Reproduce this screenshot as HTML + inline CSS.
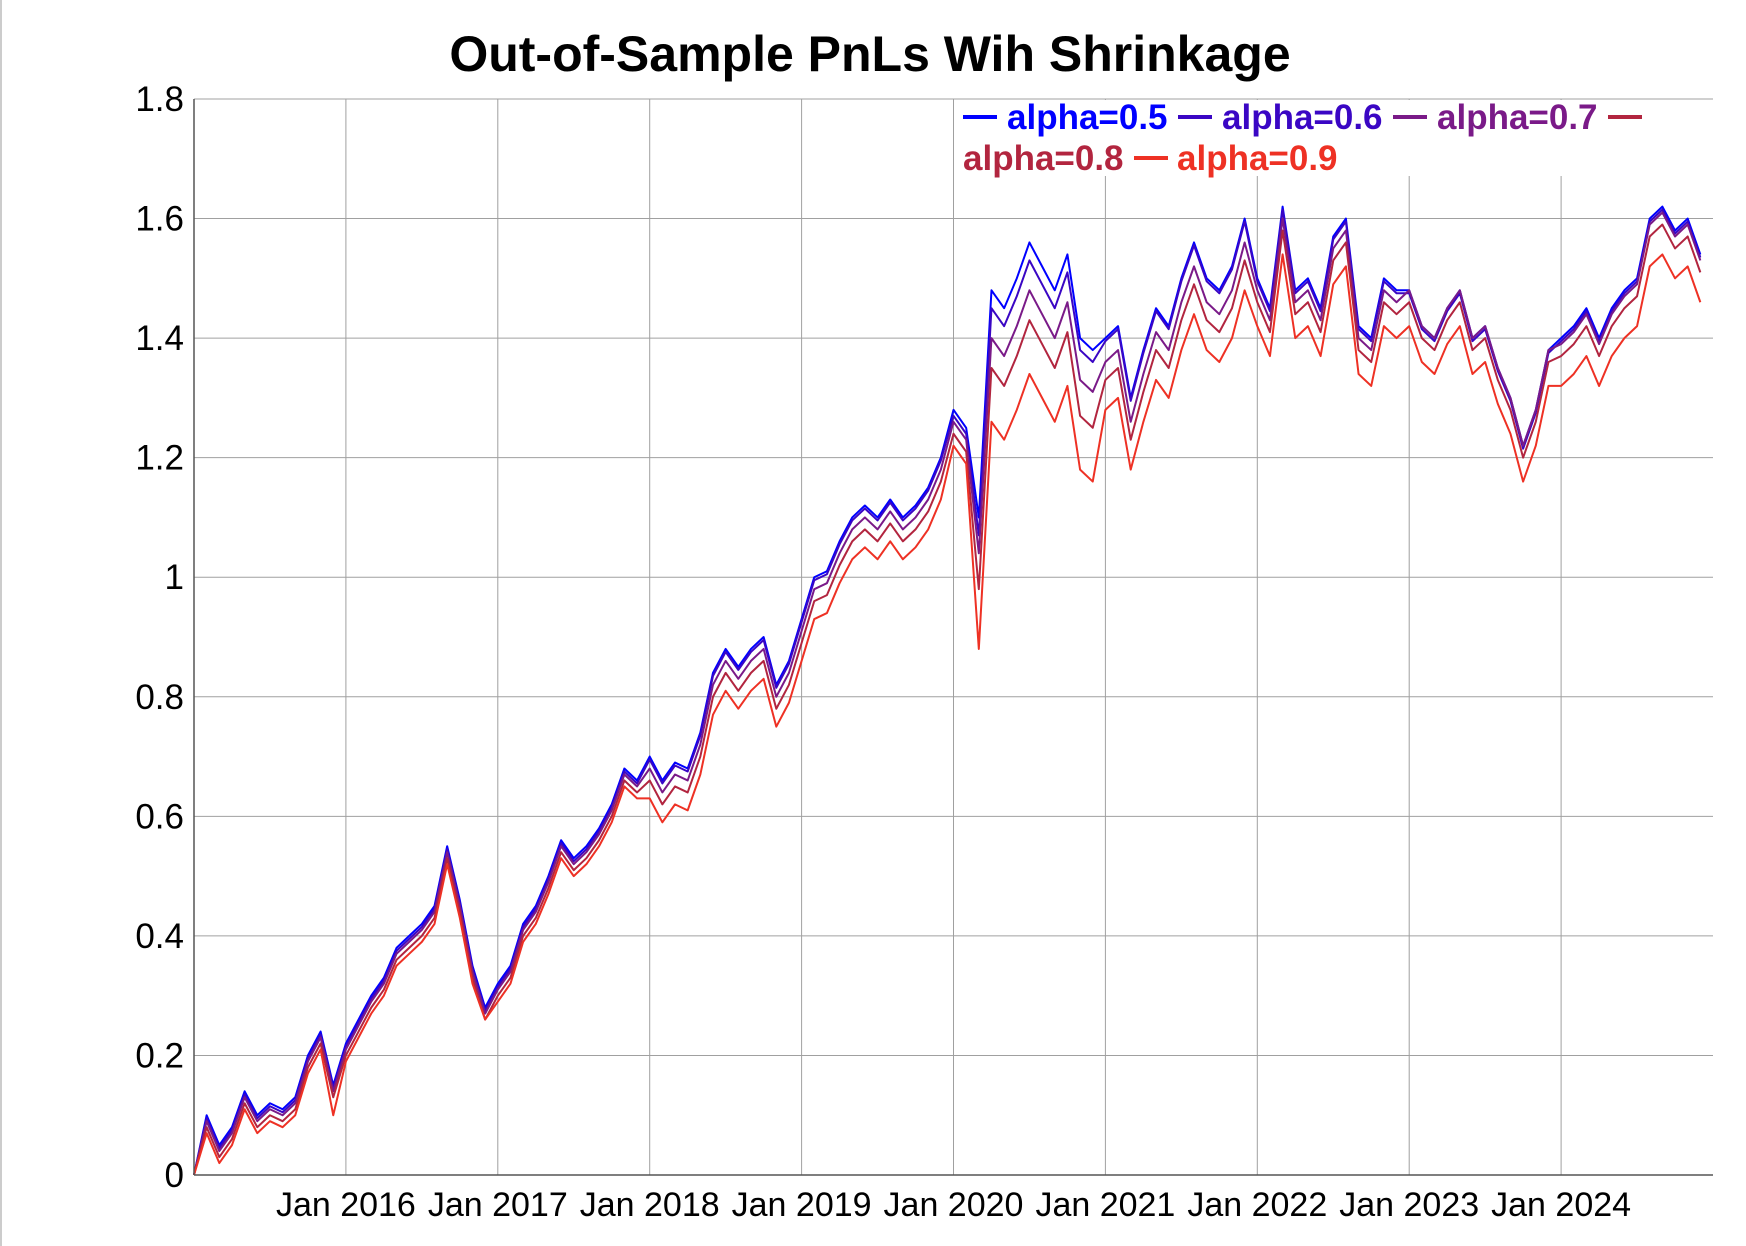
<!DOCTYPE html>
<html><head><meta charset="utf-8"><style>
body{margin:0;background:#fff;}
svg{display:block;font-family:"Liberation Sans",Arial,sans-serif;}
</style></head><body>
<svg id="chart" width="1746" height="1246" viewBox="0 0 1746 1246">
<rect x="0" y="0" width="1746" height="1246" fill="#fff"/>
<line x1="1" y1="0" x2="1" y2="1246" stroke="#ccc" stroke-width="2"/>
<text x="870" y="71" text-anchor="middle" font-size="50" font-weight="bold">Out-of-Sample PnLs Wih Shrinkage</text>
<g id="grid"></g><g id="series"></g><g id="axes"></g><g id="legend"></g>
</svg>
<script>
const yTicks=[0,0.2,0.4,0.6,0.8,1,1.2,1.4,1.6,1.8];
const yTickLabels=["0","0.2","0.4","0.6","0.8","1","1.2","1.4","1.6","1.8"];
const xTicks=[2016,2017,2018,2019,2020,2021,2022,2023,2024];
const xTickLabels=["Jan 2016","Jan 2017","Jan 2018","Jan 2019","Jan 2020","Jan 2021","Jan 2022","Jan 2023","Jan 2024"];
const seriesNames=["alpha=0.5","alpha=0.6","alpha=0.7","alpha=0.8","alpha=0.9"];
const a5=[0,0.10,0.05,0.08,0.14,0.10,0.12,0.11,0.13,0.20,0.24,0.15,
0.22,0.26,0.30,0.33,0.38,0.40,0.42,0.45,0.55,0.46,0.35,0.28,
0.32,0.35,0.42,0.45,0.50,0.56,0.53,0.55,0.58,0.62,0.68,0.66,
0.70,0.66,0.69,0.68,0.74,0.84,0.88,0.85,0.88,0.90,0.82,0.86,
0.93,1.00,1.01,1.06,1.10,1.12,1.10,1.13,1.10,1.12,1.15,1.20,
1.28,1.25,1.10,1.48,1.45,1.50,1.56,1.52,1.48,1.54,1.40,1.38,
1.40,1.42,1.30,1.38,1.45,1.42,1.50,1.56,1.50,1.48,1.52,1.60,
1.50,1.45,1.62,1.48,1.50,1.45,1.57,1.60,1.42,1.40,1.50,1.48,
1.48,1.42,1.40,1.45,1.48,1.40,1.42,1.35,1.30,1.22,1.28,1.38,
1.40,1.42,1.45,1.40,1.45,1.48,1.50,1.60,1.62,1.58,1.60,1.54];
const a6=[0,0.095,0.045,0.075,0.135,0.095,0.115,0.105,0.125,0.195,0.235,0.145,
0.215,0.255,0.295,0.325,0.375,0.395,0.415,0.445,0.545,0.455,0.345,0.275,
0.315,0.345,0.415,0.445,0.495,0.555,0.525,0.545,0.575,0.615,0.675,0.655,
0.695,0.655,0.685,0.675,0.735,0.835,0.875,0.845,0.875,0.895,0.815,0.855,
0.925,0.995,1.005,1.055,1.095,1.115,1.095,1.125,1.095,1.115,1.145,1.195,
1.27,1.24,1.07,1.45,1.42,1.47,1.53,1.49,1.45,1.51,1.38,1.36,
1.395,1.415,1.295,1.375,1.445,1.415,1.495,1.555,1.495,1.475,1.515,1.595,
1.495,1.445,1.615,1.475,1.495,1.445,1.565,1.595,1.415,1.395,1.495,1.475,
1.475,1.415,1.395,1.445,1.475,1.395,1.415,1.345,1.295,1.215,1.275,1.375,
1.395,1.415,1.445,1.395,1.445,1.475,1.495,1.595,1.615,1.575,1.595,1.535];
const a7=[0,0.09,0.04,0.07,0.13,0.09,0.11,0.10,0.12,0.19,0.23,0.14,
0.21,0.25,0.29,0.32,0.37,0.39,0.41,0.44,0.54,0.45,0.34,0.27,
0.31,0.34,0.41,0.44,0.49,0.55,0.52,0.54,0.57,0.61,0.67,0.65,
0.68,0.64,0.67,0.66,0.72,0.82,0.86,0.83,0.86,0.88,0.80,0.84,
0.91,0.98,0.99,1.04,1.08,1.10,1.08,1.11,1.08,1.10,1.13,1.18,
1.26,1.23,1.04,1.40,1.37,1.42,1.48,1.44,1.40,1.46,1.33,1.31,
1.36,1.38,1.26,1.34,1.41,1.38,1.46,1.52,1.46,1.44,1.48,1.56,
1.48,1.43,1.60,1.46,1.48,1.43,1.55,1.58,1.40,1.38,1.48,1.46,
1.48,1.42,1.40,1.45,1.48,1.40,1.42,1.35,1.30,1.22,1.28,1.38,
1.39,1.41,1.44,1.39,1.44,1.47,1.49,1.59,1.61,1.57,1.59,1.53];
const a8=[0,0.08,0.03,0.06,0.12,0.08,0.10,0.09,0.11,0.18,0.22,0.13,
0.20,0.24,0.28,0.31,0.36,0.38,0.40,0.43,0.53,0.44,0.33,0.26,
0.30,0.33,0.40,0.43,0.48,0.54,0.51,0.53,0.56,0.60,0.66,0.64,
0.66,0.62,0.65,0.64,0.70,0.80,0.84,0.81,0.84,0.86,0.78,0.82,
0.89,0.96,0.97,1.02,1.06,1.08,1.06,1.09,1.06,1.08,1.11,1.16,
1.24,1.21,0.98,1.35,1.32,1.37,1.43,1.39,1.35,1.41,1.27,1.25,
1.33,1.35,1.23,1.31,1.38,1.35,1.43,1.49,1.43,1.41,1.45,1.53,
1.46,1.41,1.58,1.44,1.46,1.41,1.53,1.56,1.38,1.36,1.46,1.44,
1.46,1.40,1.38,1.43,1.46,1.38,1.40,1.33,1.28,1.20,1.26,1.36,
1.37,1.39,1.42,1.37,1.42,1.45,1.47,1.57,1.59,1.55,1.57,1.51];
const a9=[0,0.07,0.02,0.05,0.11,0.07,0.09,0.08,0.10,0.17,0.21,0.10,
0.19,0.23,0.27,0.30,0.35,0.37,0.39,0.42,0.52,0.43,0.32,0.26,
0.29,0.32,0.39,0.42,0.47,0.53,0.50,0.52,0.55,0.59,0.65,0.63,
0.63,0.59,0.62,0.61,0.67,0.77,0.81,0.78,0.81,0.83,0.75,0.79,
0.86,0.93,0.94,0.99,1.03,1.05,1.03,1.06,1.03,1.05,1.08,1.13,
1.22,1.19,0.88,1.26,1.23,1.28,1.34,1.30,1.26,1.32,1.18,1.16,
1.28,1.30,1.18,1.26,1.33,1.30,1.38,1.44,1.38,1.36,1.40,1.48,
1.42,1.37,1.54,1.40,1.42,1.37,1.49,1.52,1.34,1.32,1.42,1.40,
1.42,1.36,1.34,1.39,1.42,1.34,1.36,1.29,1.24,1.16,1.22,1.32,
1.32,1.34,1.37,1.32,1.37,1.40,1.42,1.52,1.54,1.50,1.52,1.46];
const allSeries=[a5,a6,a7,a8,a9];
const colors=["#0000ff","#3a06c4","#7a1a88","#b2253f","#ee3124"];
const NS="http://www.w3.org/2000/svg";
const L=194,R=1713,T=99,B=1175,X0=2015,X1=2025,Y0=0,Y1=1.8;
const xs=v=>L+(v-X0)/(X1-X0)*(R-L);
const ys=v=>B-(v-Y0)/(Y1-Y0)*(B-T);
function mk(tag,attrs,parent){const e=document.createElementNS(NS,tag);for(const k in attrs)e.setAttribute(k,attrs[k]);parent.appendChild(e);return e;}
const grid=document.getElementById('grid'),axes=document.getElementById('axes'),ser=document.getElementById('series'),leg=document.getElementById('legend');
yTicks.forEach((v,i)=>{
 const g=mk('line',{x1:L,x2:R,y1:ys(v),y2:ys(v),stroke:"#a0a0a0","stroke-width":1},grid);
 
 
 const t=mk('text',{x:L-10,y:ys(v)+12,"text-anchor":"end","font-size":35},axes);
 t.textContent=yTickLabels[i];
 
 
});
xTicks.forEach((v,i)=>{
 const g=mk('line',{x1:xs(v),x2:xs(v),y1:T,y2:B,stroke:"#a0a0a0","stroke-width":1},grid);
 
 
 const t=mk('text',{x:xs(v),y:1216,"text-anchor":"middle","font-size":34},axes);
 t.textContent=xTickLabels[i];
 
 
});
const ya=mk('line',{x1:L,x2:L,y1:T,y2:B,stroke:"#555","stroke-width":1.5},axes);


const xa=mk('line',{x1:L,x2:R,y1:B,y2:B,stroke:"#555","stroke-width":1.5},axes);


allSeries.forEach((arr,si)=>{
 const pts=arr.map((v,i)=>xs(X0+i/12)+","+ys(v)).join(" ");
 const p=mk('polyline',{points:pts,fill:"none",stroke:colors[si],"stroke-width":2,"stroke-linejoin":"round"},ser);
 
 
});
const bg=mk('rect',{x:954,y:100,width:758,height:76,fill:"#fff"},leg);


const legPos=[[963,129],[1178,129],[1393,129],[1608,129],[1134,170]];
const textPos=[[1007,129],[1222,129],[1437,129],[963,170],[1177,170]];
seriesNames.forEach((n,i)=>{
 const sw=mk('line',{x1:legPos[i][0],x2:legPos[i][0]+34,y1:legPos[i][1]-12,y2:legPos[i][1]-12,stroke:colors[i],"stroke-width":4},leg);
 
 
 const t=mk('text',{x:textPos[i][0],y:textPos[i][1],fill:colors[i],"font-size":35,"font-weight":"bold"},leg);
 t.textContent=n;
 
 
});
</script>
</body></html>
